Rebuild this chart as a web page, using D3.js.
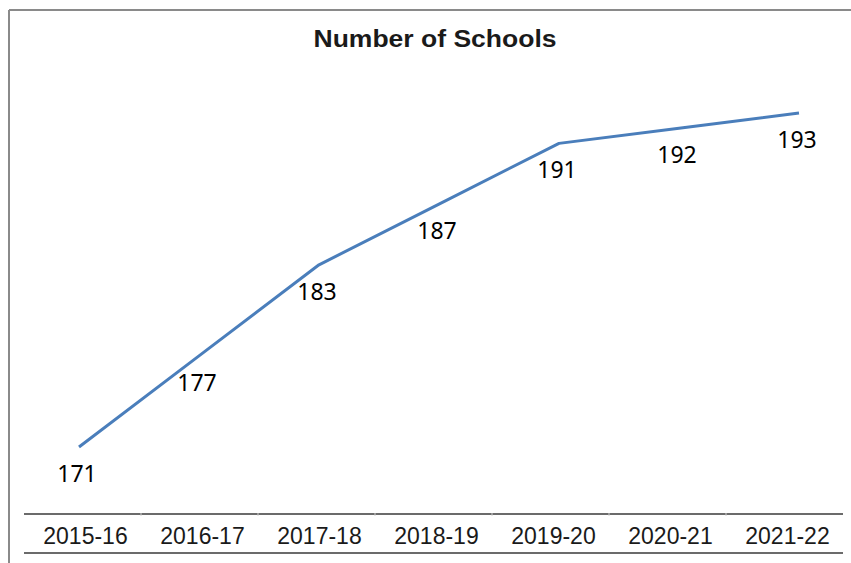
<!DOCTYPE html>
<html>
<head>
<meta charset="utf-8">
<script src="https://cdn.jsdelivr.net/npm/d3@7"></script>
<style>
  html, body { margin: 0; padding: 0; background: #fff; }
  svg { display: block; }
</style>
</head>
<body>
<svg id="chart" width="851" height="563"></svg>
<script>
const title = "Number of Schools";
const categories = ["2015-16", "2016-17", "2017-18", "2018-19", "2019-20", "2020-21", "2021-22"];
const schools = [171, 177, 183, 187, 191, 192, 193];

const svg = d3.select("#chart");
const W = 851, H = 563;

// frame (top and left borders)
svg.append("line").attr("x1", 9).attr("x2", W).attr("y1", 10).attr("y2", 10)
  .attr("stroke", "#8a8a8a").attr("stroke-width", 2);
svg.append("line").attr("x1", 9).attr("x2", 9).attr("y1", 10).attr("y2", H)
  .attr("stroke", "#8a8a8a").attr("stroke-width", 2);

// title
svg.append("text")
  .attr("x", 435).attr("y", 47)
  .attr("text-anchor", "middle")
  .attr("font-family", "Liberation Sans, Arial, sans-serif")
  .attr("font-weight", "bold")
  .attr("font-size", 23)
  .attr("fill", "#1a1a1a")
  .attr("textLength", 243)
  .attr("lengthAdjust", "spacingAndGlyphs")
  .text(title);

// scales
const x = d3.scalePoint().domain(categories).range([79, 799]);
const y = d3.scaleLinear().domain([171, 193]).range([447, 113]);

// line
const line = d3.line()
  .x((d, i) => x(categories[i]))
  .y(d => y(d));

svg.append("path")
  .datum(schools)
  .attr("d", line)
  .attr("fill", "none")
  .attr("stroke", "#4a7ebb")
  .attr("stroke-width", 3)
  .attr("stroke-linejoin", "round")
  .attr("stroke-linecap", "butt");

// data labels (below)
svg.append("g").selectAll("text")
  .data(schools)
  .join("text")
  .attr("x", (d, i) => x(categories[i]) - 2)
  .attr("y", d => y(d) + 35)
  .attr("text-anchor", "middle")
  .attr("font-family", "Noto Sans, Open Sans, sans-serif")
  .attr("font-size", 23)
  .attr("fill", "#000")
  .text(d => d);

// table-like category row below
const band = d3.scaleBand().domain(categories).range([24, 843]);
const rowTop = 514, rowBot = 553;
const table = svg.append("g");
[rowTop, rowBot].forEach(yy => {
  table.append("line")
    .attr("x1", band.range()[0]).attr("x2", band.range()[1])
    .attr("y1", yy).attr("y2", yy)
    .attr("stroke", "#3a3a3a").attr("stroke-width", 1.5);
});
// faint cell separators
table.selectAll("line.sep")
  .data(categories.slice(1))
  .join("line")
  .attr("class", "sep")
  .attr("x1", d => band(d)).attr("x2", d => band(d))
  .attr("y1", rowTop - 1).attr("y2", rowTop + 2)
  .attr("stroke", "#cfcfcf").attr("stroke-width", 1);
table.selectAll("text")
  .data(categories)
  .join("text")
  .attr("x", d => band(d) + band.bandwidth() / 2 + 3)
  .attr("y", 544)
  .attr("text-anchor", "middle")
  .attr("font-family", "Liberation Sans, Arial, sans-serif")
  .attr("font-size", 23)
  .attr("fill", "#1a1a1a")
  .text(d => d);
</script>
</body>
</html>
